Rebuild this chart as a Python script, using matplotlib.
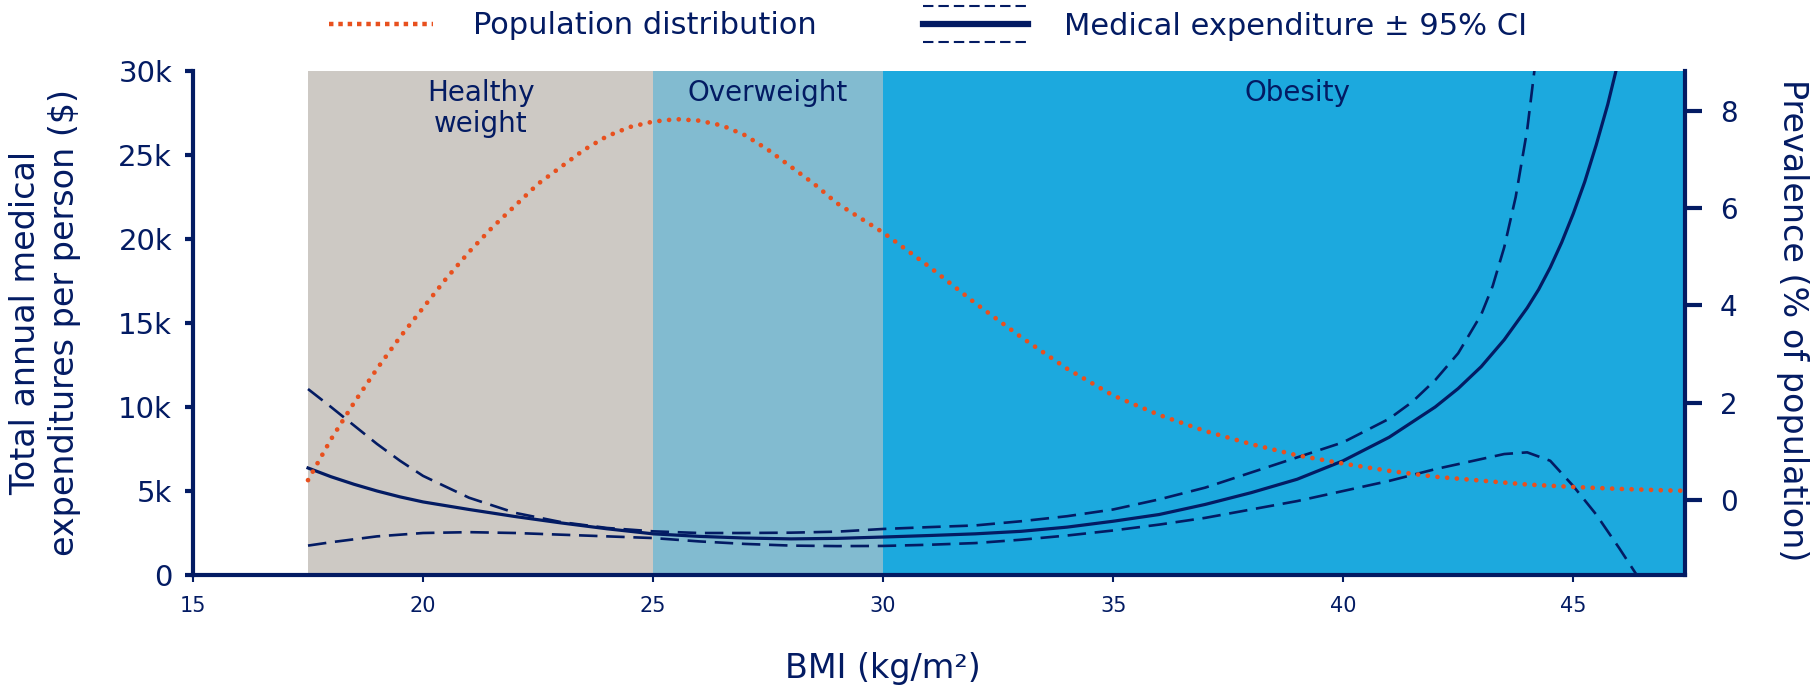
import matplotlib
matplotlib.use("Agg")
import matplotlib.pyplot as plt
from matplotlib.lines import Line2D

NAVY = '#031b63'
ORANGE = '#e8501e'

# population distribution (% of population) by BMI
pop_bmi = [17.5, 18, 18.5, 19, 19.5, 20, 20.5, 21, 21.5, 22, 22.5, 23, 23.5, 24, 24.5,
           25, 25.5, 26, 26.5, 27, 27.5, 28, 28.5, 29, 29.5, 30, 31, 32, 33, 34, 35,
           36, 37, 38, 39, 40, 41, 42, 43, 44, 45, 46, 47, 47.5]
pop_pct = [0.41, 1.25, 2.0, 2.7, 3.35, 3.95, 4.55, 5.1, 5.6, 6.05, 6.5, 6.85, 7.2, 7.48, 7.67,
           7.78, 7.83, 7.8, 7.7, 7.5, 7.2, 6.85, 6.5, 6.1, 5.8, 5.5, 4.8, 4.05, 3.35, 2.7, 2.15,
           1.75, 1.42, 1.15, 0.92, 0.75, 0.6, 0.48, 0.4, 0.32, 0.27, 0.23, 0.2, 0.19]

# medical expenditure ($) with 95% CI
exp_bmi = [17.5, 18, 18.5, 19, 19.5, 20, 21, 22, 23, 24, 25, 26, 27, 28, 29, 30, 31, 32,
           33, 34, 35, 36, 37, 38, 39, 40, 41, 42, 42.5, 43, 43.5, 44, 44.25, 44.5, 44.75,
           45, 45.25, 45.5, 45.75, 46]
exp_mid = [6370, 5850, 5400, 5000, 4650, 4350, 3900, 3480, 3100, 2750, 2450, 2300, 2200, 2150,
           2180, 2260, 2350, 2450, 2600, 2850, 3200, 3600, 4200, 4900, 5700, 6800, 8200,
           10000, 11100, 12400, 14000, 15900, 17000, 18300, 19800, 21500, 23400, 25600,
           28000, 30800]
upper_bmi = [17.5, 18, 18.5, 19, 19.5, 20, 21, 22, 23, 24, 25, 26, 27, 28, 29, 30, 31, 32,
             33, 34, 35, 36, 37, 38, 39, 40, 41, 41.5, 42, 42.5, 43, 43.25, 43.5, 43.75,
             44, 44.2]
exp_upper = [11070, 10000, 8900, 7800, 6800, 5900, 4600, 3700, 3150, 2800, 2600, 2500, 2500,
             2520, 2580, 2740, 2850, 2950, 3200, 3500, 3900, 4500, 5200, 6100, 7000, 7900,
             9300, 10300, 11600, 13200, 15500, 17200, 19500, 22500, 26500, 31000]
lower_bmi = [17.5, 18, 19, 20, 21, 22, 23, 24, 25, 26, 27, 28, 29, 30, 31, 32, 33, 34, 35,
             36, 37, 38, 39, 40, 41, 42, 42.5, 43, 43.5, 44, 44.5, 45, 45.5, 46, 46.5, 47]
exp_lower = [1750, 1950, 2300, 2500, 2550, 2500, 2400, 2300, 2200, 2000, 1850, 1750, 1720,
             1730, 1800, 1900, 2100, 2350, 2650, 3000, 3400, 3900, 4400, 5000, 5600, 6300,
             6600, 6900, 7200, 7300, 6800, 5300, 3600, 1600, -500, -3000]

regions = ['Healthy\nweight', 'Overweight', 'Obesity']
region_edges = [17.5, 25, 30, 47.43]
region_colors = ['#cdc9c4', '#82bbd0', '#1ca9de']
region_label_x = [21.25, 27.5, 39.0]

left_ticks = [0, 5000, 10000, 15000, 20000, 25000, 30000]
left_ticklabels = ['0', '5k', '10k', '15k', '20k', '25k', '30k']
right_ticks = [0, 2, 4, 6, 8]
x_ticks = [15, 20, 25, 30, 35, 40, 45]

plt.rcParams['font.family'] = ['DejaVu Sans']

fig = plt.figure(figsize=(18.13, 6.91), dpi=100)
ax = fig.add_axes([0.10645, 0.16787, 0.82295, 0.72938])
ax2 = ax.twinx()

# background bands
for i in range(len(regions)):
    ax.axvspan(region_edges[i], region_edges[i + 1], color=region_colors[i], lw=0, zorder=0)
for i, name in enumerate(regions):
    ax.text(region_label_x[i], 0.985, name, transform=ax.get_xaxis_transform(),
            ha='center', va='top', fontsize=20, color=NAVY, linespacing=1.15)

ax.plot(exp_bmi, exp_mid, color=NAVY, lw=2.3, zorder=3)
ax.plot(upper_bmi, exp_upper, color=NAVY, lw=1.9, dashes=(7, 3.3), zorder=3)
ax.plot(lower_bmi, exp_lower, color=NAVY, lw=1.9, dashes=(7, 3.3), zorder=3)

ax2.plot(pop_bmi, pop_pct, color=ORANGE, lw=3.4, linestyle=(0, (0.01, 2.05)),
         dash_capstyle='round', zorder=3)

ax.set_xlim(15, 47.43)
ax.set_ylim(0, 30000)
ax2.set_ylim(-1.54, 8.82)

ax.set_xticks(x_ticks)
ax.set_yticks(left_ticks)
ax.set_yticklabels(left_ticklabels)
ax2.set_yticks(right_ticks)

for a in (ax, ax2):
    a.spines['top'].set_visible(False)
    for s in ('left', 'right', 'bottom'):
        a.spines[s].set_color(NAVY)
        a.spines[s].set_linewidth(3)
ax.spines['right'].set_visible(False)
ax2.spines['left'].set_visible(False)
ax2.spines['bottom'].set_visible(False)

ax.tick_params(axis='y', colors=NAVY, labelsize=21, length=6, width=3, pad=9)
ax.tick_params(axis='x', colors=NAVY, labelsize=15, length=5, width=1.5, pad=10)
ax2.tick_params(axis='y', colors=NAVY, labelsize=20, length=12, width=3, pad=13)

fig.text(45 / 1813, 1 - 323 / 691, 'Total annual medical\nexpenditures per person ($)',
         rotation=90, ha='center', va='center', fontsize=24, color=NAVY,
         multialignment='center', linespacing=1.25)
fig.text(1793 / 1813, 1 - 320 / 691, 'Prevalence (% of population)', rotation=-90,
         ha='center', va='center', fontsize=24, color=NAVY)
fig.text(883 / 1813, 1 - 678 / 691, 'BMI (kg/m²)', ha='center', va='baseline',
         fontsize=24, color=NAVY)

# legend drawn at the top of the figure
W, H = 1813.0, 691.0
fig.add_artist(Line2D([329 / W, 433 / W], [1 - 24 / H, 1 - 24 / H], color=ORANGE, lw=3.2,
                      linestyle=(0, (1, 1.1)), transform=fig.transFigure))
fig.text(473 / W, 1 - 34 / H, 'Population distribution', ha='left', va='baseline',
         fontsize=22, color=NAVY)
fig.add_artist(Line2D([923 / W, 1028 / W], [1 - 24 / H, 1 - 24 / H], color=NAVY, lw=4.5,
                      transform=fig.transFigure))
for yy in (6, 42):
    fig.add_artist(Line2D([923 / W, 1028 / W], [1 - yy / H, 1 - yy / H], color=NAVY, lw=1.5,
                          dashes=(5, 2.4), transform=fig.transFigure))
fig.text(1064 / W, 1 - 35 / H, 'Medical expenditure ± 95% CI', ha='left', va='baseline',
         fontsize=22, color=NAVY)

fig.savefig('out.png', dpi=100)
